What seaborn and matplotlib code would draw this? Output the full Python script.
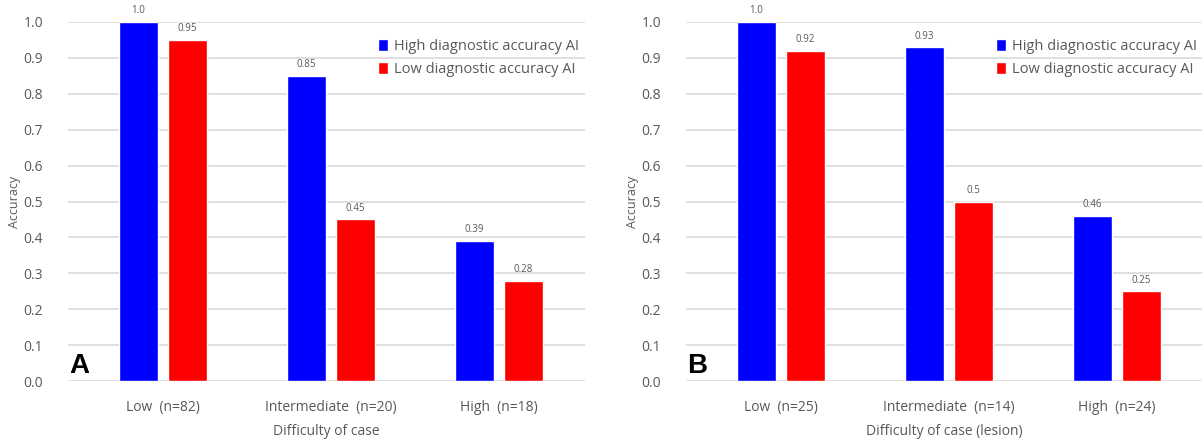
import matplotlib
matplotlib.use("Agg")
import matplotlib.pyplot as plt
import seaborn as sns
import pandas as pd

# Data
series = ["High diagnostic accuracy AI", "Low diagnostic accuracy AI"]
cats_a = ["Low  (n=82)", "Intermediate  (n=20)", "High  (n=18)"]
high_a = [1.0, 0.85, 0.39]
low_a = [0.95, 0.45, 0.28]
labels_high_a = ["1.0", "0.85", "0.39"]
labels_low_a = ["0.95", "0.45", "0.28"]

cats_b = ["Low  (n=25)", "Intermediate  (n=14)", "High  (n=24)"]
high_b = [1.0, 0.93, 0.46]
low_b = [0.92, 0.5, 0.25]
labels_high_b = ["1.0", "0.93", "0.46"]
labels_low_b = ["0.92", "0.5", "0.25"]

yticks = [0.0, 0.1, 0.2, 0.3, 0.4, 0.5, 0.6, 0.7, 0.8, 0.9, 1.0]

sns.set_theme(style="white")
plt.rcParams['font.family'] = ['Open Sans', 'DejaVu Sans']

TXT = "#595959"
palette = {series[0]: "#0000FF", series[1]: "#FF0000"}

fig = plt.figure(figsize=(12.02, 4.40), dpi=100)
W = 3.075 * 168 / 1202
axA = fig.add_axes([68 / 1202, 0.134, W, 0.816])
axB = fig.add_axes([686 / 1202, 0.134, W, 0.816])


def draw(ax, cats, hi, lo, lhi, llo, xlabel, letter):
    df = pd.DataFrame({
        "cat": cats + cats,
        "val": hi + lo,
        "series": [series[0]] * len(cats) + [series[1]] * len(cats),
    })
    sns.barplot(data=df, x="cat", y="val", hue="series", palette=palette,
                width=0.58, gap=0.2, ax=ax, saturation=1, order=cats,
                hue_order=series, errorbar=None)
    for cont, labs in zip(ax.containers, [lhi, llo]):
        ax.bar_label(cont, labels=labs, padding=4, fontsize=7, color=TXT,
                     clip_on=False)
    ax.set_xlim(-0.565, 2.51)
    ax.set_ylim(0, 1.0)
    ax.set_yticks(yticks)
    ax.set_yticklabels([f"{t:.1f}" for t in yticks], fontsize=10, color=TXT)
    ax.yaxis.grid(True, color="#d9d9d9", linewidth=1.2)
    ax.set_axisbelow(True)
    for s in ax.spines.values():
        s.set_visible(False)
    ax.tick_params(axis="y", length=0, pad=18)
    ax.tick_params(axis="x", length=0, pad=14, labelsize=10, labelcolor=TXT)
    ax.set_xlabel(xlabel, fontsize=10, color=TXT, labelpad=6)
    ax.set_ylabel("Accuracy", fontsize=9, color=TXT, labelpad=2)
    ax.text(-0.56, 0.005, letter, transform=ax.get_xaxis_transform(),
            fontsize=20, fontweight="bold", color="black",
            family=["Liberation Sans", "DejaVu Sans"], va="bottom", ha="left")
    leg = ax.legend(loc="upper right", bbox_to_anchor=(1.0, 0.97),
                    frameon=False, fontsize=10.5, handlelength=0.7,
                    handleheight=0.9, handletextpad=0.4, labelspacing=0.55,
                    borderaxespad=0.0)
    for t in leg.get_texts():
        t.set_color(TXT)


draw(axA, cats_a, high_a, low_a, labels_high_a, labels_low_a,
     "Difficulty of case", "A")
draw(axB, cats_b, high_b, low_b, labels_high_b, labels_low_b,
     "Difficulty of case (lesion)", "B")

fig.savefig("out.png", dpi=100)
